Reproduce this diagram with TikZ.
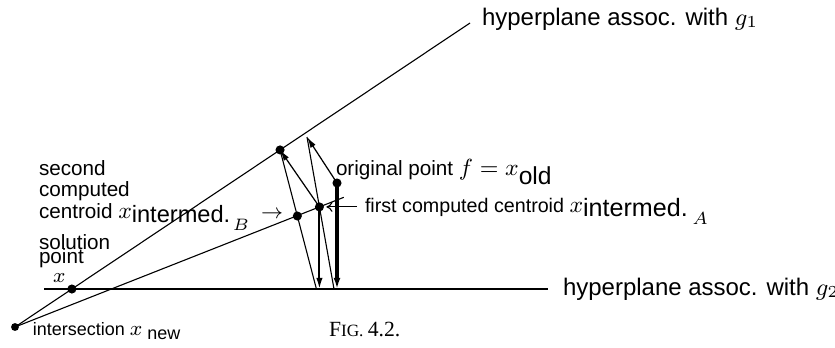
\RequirePackage{fix-cm}
\documentclass[tikz,border=0pt]{standalone}
\usepackage[no-math]{fontspec}
\setmainfont{Liberation Sans}
\newfontfamily\capfont{Liberation Serif}
\usetikzlibrary{arrows.meta,calc}
\newcommand{\lbl}{\fontsize{8.4}{10}\selectfont}
\newcommand{\lblA}{\fontsize{8.0}{10}\selectfont}
\newcommand{\hyp}{\fontsize{9.75}{12}\selectfont}
\newcommand{\smalllbl}{\fontsize{7.3}{9}\selectfont}
\newcommand{\bigmath}[1]{{\fontsize{9.5}{11}\selectfont$#1$}}
\newcommand{\lowsub}[3]{\raisebox{-#1}{\fontsize{#2}{11}\selectfont #3}}
\begin{document}
\begin{tikzpicture}[x=0.4065pt,y=-0.4065pt,
  thinl/.style={line width=0.45pt},
  gtwo/.style={line width=0.8pt},
  arr/.style={line width=0.5pt,-{Latex[length=4.5pt,width=2.4pt]}},
  medarr/.style={line width=0.8pt,-{Latex[length=4.5pt,width=2.6pt]}},
  thickarr/.style={line width=1.25pt,-{Latex[length=4.5pt,width=2.8pt]}},
  ptr/.style={line width=0.45pt,-{To[length=2.5pt,width=4pt]}},
  dot/.style={fill=black},
  txt/.style={anchor=base west,inner sep=0pt,outer sep=0pt}]
\useasboundingbox (0,0) rectangle (835,347);
% geometry
\coordinate (Xn) at (15,327);
\coordinate (G1e) at (470,23);
\coordinate (G2s) at (44,289);
\coordinate (G2e) at (548,289);
\coordinate (S) at ($(Xn)!0.125!(G1e)$);
\coordinate (P2) at ($(Xn)!0.5825!(G1e)$);
\coordinate (P1) at (307,137);
\coordinate (F) at (337,183);
\coordinate (Q1) at (337,289);
\coordinate (Q1t) at (334,289);
\coordinate (A) at ($(P1)!0.46!(Q1t)$);
\coordinate (Q2) at (A |- G2s);
\coordinate (Q2t) at ($(Q2)+(-3,0)$);
\coordinate (B) at ($(P2)!0.475!(Q2t)$);
\coordinate (Le) at ($(Xn)!1.08!(A)$);
% lines
\draw[thinl] (Xn) -- (G1e);
\draw[gtwo] (G2s) -- (G2e);
\draw[thinl] (Xn) -- (Le);
\draw[thinl] (P1) -- (Q1t);
\draw[thinl] (P2) -- (Q2t);
\draw[arr] (F) -- (P1);
\draw[arr] (A) -- (P2);
\draw[thickarr] (F) -- (Q1);
\draw[medarr] (A) -- (Q2);
% dots
\fill[dot] (Xn) circle[radius=1.6pt];
\fill[dot] (S) circle[radius=1.85pt];
\fill[dot] (P2) circle[radius=1.85pt];
\fill[dot] (B) circle[radius=1.85pt];
\fill[dot] (A) circle[radius=1.85pt];
\fill[dot] (F) circle[radius=1.85pt];
% labels
\node[txt] (hg1) at (482,25) {\hyp hyperplane assoc. with $g_1$};
\node[txt] (hg2) at (563,295) {\hyp hyperplane assoc. with $g_2$};
\node[txt] (l1) at (39,175) {\lbl second};
\node[txt] (l2) at (39,196) {\lbl computed};
\node[txt] (l3) at (39,218) {\lbl centroid \bigmath{x}\lowsub{2pt}{9.6}{intermed.\hspace{1pt}\raisebox{-3pt}{$\scriptstyle B$}}\hspace{5pt}$\rightarrow$};
\node[txt] (l4) at (39,249) {\lbl solution};
\node[txt] (l5) at (39,263) {\lbl point};
\node[txt] (l6) at (53,282) {\lbl $x$};
\node[txt] (lxn) at (33,335) {\smalllbl intersection {\fontsize{8.5}{10}\selectfont$x$} \raisebox{-2pt}{new}};
\node[txt] (lf) at (336,175) {\lbl original point \bigmath{f=x}\lowsub{3.7pt}{10}{old}};
\node[txt] (lA) at (365,212) {\lblA first computed centroid \bigmath{x}\lowsub{1.8pt}{10.2}{intermed.\hspace{2pt}\raisebox{-3.2pt}{$\scriptstyle A$}}};
\draw[ptr] ([xshift=-3.2pt]lA.west |- A) -- ([xshift=2.8pt]A);
\node[txt] (cap) at (329,336) {\capfont\fontsize{8.8}{10}\selectfont F\fontsize{7}{8}\selectfont IG. \fontsize{8.8}{10}\selectfont 4.2.};
\end{tikzpicture}
\end{document}
